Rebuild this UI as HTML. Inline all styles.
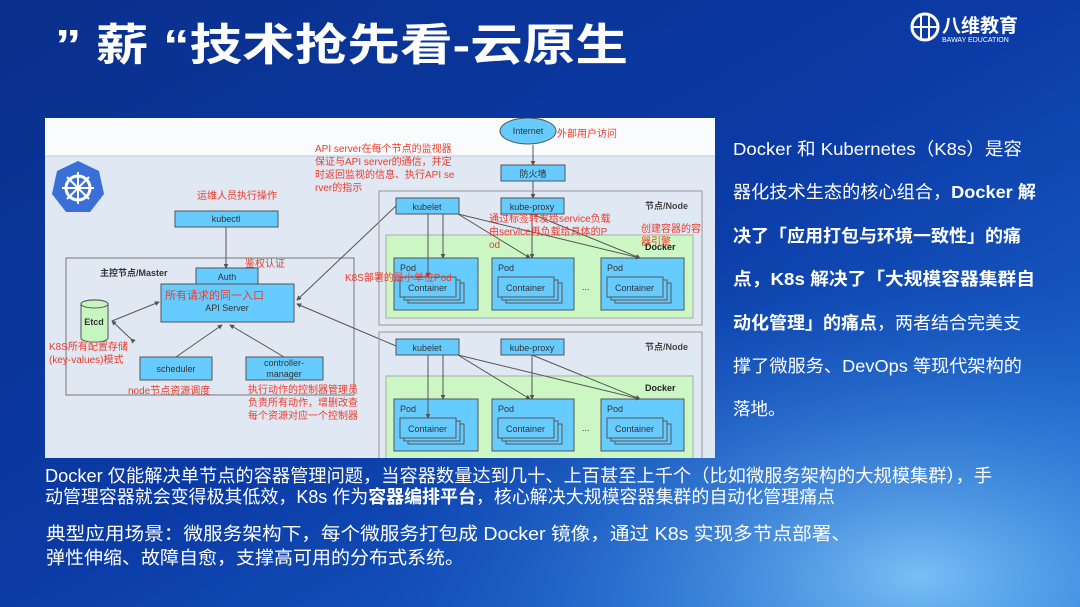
<!DOCTYPE html>
<html><head><meta charset="utf-8"><style>
body{margin:0;width:1080px;height:607px;overflow:hidden;background:#0a3596}
svg{display:block}
text{font-family:"Liberation Sans","Noto Sans CJK SC",sans-serif}
</style></head><body>
<svg width="1080" height="607" viewBox="0 0 1080 607" xmlns="http://www.w3.org/2000/svg">
<defs>
<linearGradient id="bg" x1="0" y1="0" x2="1" y2="1">
<stop offset="0" stop-color="#0a2f8c"/><stop offset="0.5" stop-color="#0b3ba6"/><stop offset="1" stop-color="#1f6fd6"/>
</linearGradient>
<radialGradient id="glow" cx="0.85" cy="0.95" r="0.5">
<stop offset="0" stop-color="#8fd6ff" stop-opacity="0.8"/><stop offset="1" stop-color="#1f6fd6" stop-opacity="0"/>
</radialGradient>
<clipPath id="dc"><rect x="45" y="118" width="670" height="340"/></clipPath>
<marker id="a" viewBox="0 0 6 6" refX="5" refY="3" markerWidth="5" markerHeight="5" orient="auto"><path d="M0,0L6,3L0,6z" fill="#555"/></marker>
</defs>
<rect width="1080" height="607" fill="url(#bg)"/>
<rect width="1080" height="607" fill="url(#glow)"/>
<!-- title -->
<text x="55" y="60" font-size="44" font-weight="bold" fill="#fff" textLength="573" lengthAdjust="spacingAndGlyphs">” 薪 “技术抢先看-云原生</text>
<circle cx="925" cy="27" r="13" fill="none" stroke="#fff" stroke-width="3"/>
<line x1="912" y1="27" x2="938" y2="27" stroke="#fff" stroke-width="2"/>
<line x1="921" y1="15" x2="921" y2="39" stroke="#fff" stroke-width="2"/>
<line x1="929" y1="15" x2="929" y2="39" stroke="#fff" stroke-width="2"/>
<text x="942" y="32" font-size="19" font-weight="bold" fill="#fff">八维教育</text>
<text x="942" y="42" font-size="7" fill="#fff">BAWAY EDUCATION</text>

<g clip-path="url(#dc)">
<rect x="45" y="118" width="670" height="340" fill="#dfe8f3"/>
<rect x="45" y="118" width="670" height="38" fill="#fafbfd"/>
<line x1="45" y1="156" x2="715" y2="156" stroke="#b8c8d8"/>
<polygon points="78,161 99,171 104,194 90,212 66,212 52,194 57,171" fill="#3b6fd8"/>
<circle cx="78" cy="188" r="12" fill="none" stroke="#fff" stroke-width="3"/>
<g stroke="#fff" stroke-width="2"><line x1="78" y1="172" x2="78" y2="204"/><line x1="62" y1="188" x2="94" y2="188"/><line x1="67" y1="177" x2="89" y2="199"/><line x1="89" y1="177" x2="67" y2="199"/></g>

<g stroke="#555" fill="#66ccff" stroke-width="1">
<rect x="175" y="211" width="103" height="16"/>
<rect x="66" y="258" width="288" height="137" fill="none" stroke="#777"/>
<rect x="196" y="268" width="62" height="16"/>
<rect x="161" y="284" width="133" height="38"/>
<rect x="140" y="357" width="72" height="23"/>
<rect x="246" y="357" width="77" height="23"/>
<path d="M81,304 a13,4 0 0 1 27,0 v34 a13,4 0 0 1 -27,0z" fill="#c6f5c0"/>
<ellipse cx="94.5" cy="304" rx="13.5" ry="4" fill="#c6f5c0"/>
</g>
<g font-size="9" fill="#333" text-anchor="middle">
<text x="226" y="222">kubectl</text>
<text x="227" y="280">Auth</text>
<text x="227" y="311">API Server</text>
<text x="176" y="372">scheduler</text>
<text x="284" y="366">controller-</text>
<text x="284" y="377">manager</text>
<text x="94" y="325" font-weight="bold">Etcd</text>
<text x="100" y="276" text-anchor="start" font-weight="bold">主控节点/Master</text>
</g>
<text x="165" y="299" font-size="11" fill="#f03a2a">所有请求的同一入口</text>
<g stroke="#555" marker-end="url(#a)">
<line x1="226" y1="227" x2="226" y2="268"/>
<line x1="131" y1="339" x2="112" y2="321" marker-start="url(#a)"/>
<line x1="112" y1="321" x2="159" y2="302"/>
<line x1="176" y1="357" x2="222" y2="325"/>
<line x1="284" y1="357" x2="230" y2="325"/>
<line x1="396" y1="206" x2="297" y2="300"/>
<line x1="396" y1="346" x2="297" y2="304"/>
</g>

<ellipse cx="528" cy="131" rx="28" ry="13" fill="#66ccff" stroke="#555"/>
<text x="528" y="134" font-size="9" text-anchor="middle" fill="#333">Internet</text>
<rect x="501" y="165" width="64" height="16" fill="#66ccff" stroke="#555"/>
<text x="533" y="177" font-size="9" text-anchor="middle" fill="#333">防火墙</text>
<line x1="533" y1="145" x2="533" y2="165" stroke="#555" marker-end="url(#a)"/>
<line x1="533" y1="181" x2="533" y2="198" stroke="#555" marker-end="url(#a)"/>

<g id="n1">
<rect x="379" y="191" width="323" height="134" fill="none" stroke="#999"/>
<rect x="386" y="235" width="307" height="83" fill="#ccf7c4" stroke="#aaa"/>
<rect x="396" y="198" width="63" height="16" fill="#66ccff" stroke="#555"/>
<rect x="501" y="198" width="63" height="16" fill="#66ccff" stroke="#555"/>
<text x="427" y="210" font-size="9" text-anchor="middle" fill="#333">kubelet</text>
<text x="532" y="210" font-size="9" text-anchor="middle" fill="#333">kube-proxy</text>
<text x="645" y="209" font-size="9" font-weight="bold" fill="#444">节点/Node</text>
<text x="645" y="250" font-size="9" font-weight="bold" fill="#222">Docker</text>
<g fill="#66ccff" stroke="#555">
<rect x="394" y="258" width="84" height="52"/><rect x="492" y="258" width="82" height="52"/><rect x="601" y="258" width="83" height="52"/>
<rect x="408" y="283" width="56" height="20"/><rect x="404" y="280" width="56" height="20"/><rect x="400" y="277" width="56" height="20"/>
<rect x="506" y="283" width="56" height="20"/><rect x="502" y="280" width="56" height="20"/><rect x="498" y="277" width="56" height="20"/>
<rect x="615" y="283" width="56" height="20"/><rect x="611" y="280" width="56" height="20"/><rect x="607" y="277" width="56" height="20"/>
</g>
<g font-size="9" fill="#333"><text x="400" y="271">Pod</text><text x="498" y="271">Pod</text><text x="607" y="271">Pod</text>
<text x="408" y="291">Container</text><text x="506" y="291">Container</text><text x="615" y="291">Container</text><text x="582" y="290">...</text></g>
<g stroke="#555" marker-end="url(#a)">
<line x1="428" y1="214" x2="428" y2="277"/><line x1="443" y1="214" x2="443" y2="258"/>
<line x1="458" y1="214" x2="530" y2="258"/><line x1="458" y1="214" x2="640" y2="258"/>
<line x1="532" y1="214" x2="532" y2="258"/><line x1="532" y1="214" x2="640" y2="258"/>
</g>
</g>
<use href="#n1" y="141"/>

<g font-size="10" fill="#f03a2a">
<text x="197" y="199">运维人员执行操作</text>
<text x="245" y="267">鉴权认证</text>
<text x="49" y="350">K8S所有配置存储</text>
<text x="49" y="363">(key-values)模式</text>
<text x="128" y="394">node节点资源调度</text>
<text x="248" y="393">执行动作的控制器管理员</text>
<text x="248" y="406">负责所有动作，增删改查</text>
<text x="248" y="419">每个资源对应一个控制器</text>
<text x="315" y="152">API server在每个节点的监视器</text>
<text x="315" y="165">保证与API server的通信，并定</text>
<text x="315" y="178">时返回监视的信息、执行API se</text>
<text x="315" y="191">rver的指示</text>
<text x="557" y="137">外部用户访问</text>
<text x="345" y="281">K8S部署的最小单位Pod</text>
<text x="641" y="232">创建容器的容</text>
<text x="641" y="245">器引擎</text>
<text x="489" y="222">通过标签转发给service负载</text>
<text x="489" y="235">由service再负载给具体的P</text>
<text x="489" y="248">od</text>
</g>
</g>

<g font-size="17.5" fill="#fff">
<text x="733" y="155" textLength="289" lengthAdjust="spacingAndGlyphs">Docker 和 Kubernetes（K8s）是容</text>
<text x="733" y="198" textLength="303" lengthAdjust="spacingAndGlyphs">器化技术生态的核心组合，<tspan font-weight="bold">Docker 解</tspan></text>
<text x="733" y="242" font-weight="bold" textLength="288" lengthAdjust="spacingAndGlyphs">决了「应用打包与环境一致性」的痛</text>
<text x="733" y="285" font-weight="bold" textLength="302" lengthAdjust="spacingAndGlyphs">点，K8s 解决了「大规模容器集群自</text>
<text x="733" y="329" textLength="288" lengthAdjust="spacingAndGlyphs"><tspan font-weight="bold">动化管理」的痛点</tspan>，两者结合完美支</text>
<text x="733" y="372" textLength="289" lengthAdjust="spacingAndGlyphs">撑了微服务、DevOps 等现代架构的</text>
<text x="733" y="415">落地。</text>
</g>
<g font-size="18" fill="#fff">
<text x="45" y="482" textLength="947" lengthAdjust="spacingAndGlyphs">Docker 仅能解决单节点的容器管理问题，当容器数量达到几十、上百甚至上千个（比如微服务架构的大规模集群），手</text>
<text x="45" y="503" textLength="790" lengthAdjust="spacingAndGlyphs">动管理容器就会变得极其低效，K8s 作为<tspan font-weight="bold">容器编排平台</tspan>，核心解决大规模容器集群的自动化管理痛点</text>
<text x="46" y="540" textLength="805" lengthAdjust="spacingAndGlyphs">典型应用场景：微服务架构下，每个微服务打包成 Docker 镜像，通过 K8s 实现多节点部署、</text>
<text x="46" y="564" textLength="418" lengthAdjust="spacingAndGlyphs">弹性伸缩、故障自愈，支撑高可用的分布式系统。</text>
</g>
</svg>
</body></html>
